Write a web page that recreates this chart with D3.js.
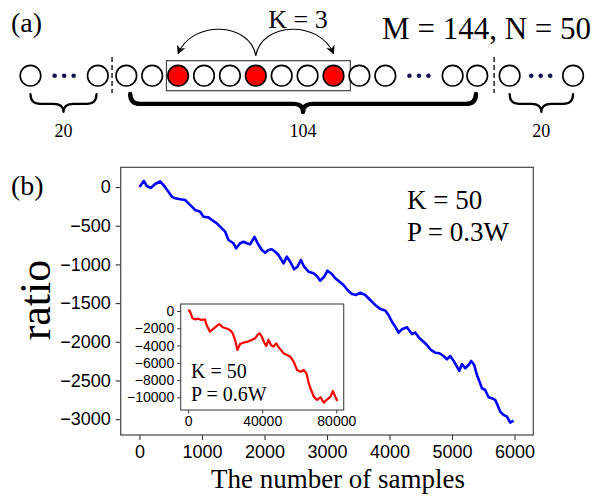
<!DOCTYPE html>
<html><head><meta charset="utf-8">
<script src="https://cdn.jsdelivr.net/npm/d3@7/dist/d3.min.js"></script>
<style>body{margin:0;background:#fff}svg{display:block}</style>
</head><body>
<script>
// ---------- Panel (a) schematic data (slot units) ----------
const circleSlots = [-3.7, -1.1, 0, 1, 2, 3, 4, 5, 6, 7, 8, 9, 10, 12.6, 13.55, 14.8, 17.25];
const redSlots = [2, 5, 8];
const dotSlots = [-2.4, 11.3, 16.0];
const sepSlots = [-0.55, 14.2];
const braceRanges = [[-3.7, -1.15, "20", 0], [0.15, 13.5, "104", 1], [14.8, 17.25, "20", 0]];
const boxRange = [1.55, 8.65];
const kLabelA = "K = 3";
const mnLabel = "M = 144, N = 50";

// ---------- Panel (b) main series ----------
const blueX = [0,70,118,182,251,331,384,464,518,571,651,731,784,838,891,971,1024,1104,1158,1238,1318,1371,1424,1504,1547,1611,1664,1718,1771,1840,1890,1958,2011,2064,2118,2171,2224,2304,2358,2411,2475,2528,2582,2635,2704,2784,2838,2891,2955,3008,3078,3131,3200,3264,3328,3398,3467,3531,3611,3691,3771,3851,3931,3984,4038,4091,4144,4198,4278,4358,4411,4480,4544,4598,4662,4731,4800,4864,4918,4971,5024,5078,5115,5158,5211,5264,5307,5355,5398,5440,5478,5531,5584,5638,5691,5728,5771,5824,5878,5931,5984];
const blueY = [0,78,13,-13,39,74,26,-60,-125,-146,-159,-168,-211,-254,-297,-319,-384,-392,-426,-469,-534,-577,-685,-727,-792,-727,-707,-727,-740,-645,-727,-814,-849,-814,-805,-836,-879,-986,-900,-965,-1063,-1030,-943,-1030,-1094,-1115,-1150,-1210,-1159,-1081,-1124,-1180,-1223,-1266,-1331,-1382,-1395,-1365,-1395,-1460,-1524,-1575,-1595,-1654,-1740,-1805,-1882,-1839,-1813,-1899,-1882,-1955,-1999,-2041,-2106,-2141,-2149,-2184,-2227,-2184,-2244,-2322,-2377,-2287,-2343,-2300,-2248,-2300,-2429,-2515,-2601,-2623,-2717,-2730,-2752,-2817,-2903,-2946,-2968,-3045,-3019];
// ---------- Inset series ----------
const redX = [0,920,2390,3640,5430,7270,9060,9980,11780,13240,15030,16820,18670,20460,22630,24100,25350,26590,28060,29850,32020,34410,36200,37450,38530,39840,41090,42170,43420,44720,46130,47600,48840,50150,51560,53400,55190,56980,58830,60620,62420,63880,65130,66430,67840,69680,71470,73260,75110,76900,78140,79600,80550];
const redY = [116,0,-850,-965,-890,-1040,-965,-1620,-2400,-2120,-1820,-1505,-1890,-2005,-2200,-2580,-3360,-4515,-3820,-3670,-3555,-3360,-3160,-2780,-2580,-2980,-3670,-4055,-3360,-3940,-4130,-3745,-4205,-4515,-4900,-5095,-5290,-5870,-6830,-7030,-6830,-7215,-8370,-9150,-9920,-10300,-9990,-10620,-10225,-9920,-9260,-9990,-10420];

const mainXTicks = [0,1000,2000,3000,4000,5000,6000];
const mainYTicks = [0,-500,-1000,-1500,-2000,-2500,-3000];
const insetXTicks = [0,40000,80000];
const insetYTicks = [0,-2000,-4000,-6000,-8000,-10000];
const mainText = ["K = 50", "P = 0.3W"];
const insetText = ["K = 50", "P = 0.6W"];
const xLabel = "The number of samples";
const yLabel = "ratio";

// ---------- drawing ----------
const SERIF = "'Liberation Serif', 'DejaVu Serif', serif";
const SANS = "'Liberation Sans', Arial, sans-serif";
const svg = d3.select("body").append("svg").attr("width", 608).attr("height", 498);
const fmt = d => d < 0 ? "\u2212" + Math.abs(d) : String(d);

// Panel (a)
const sx = d3.scaleLinear().domain([0, 1]).range([126.3, 152.2]);
const cy = 75.7, r = 10.3;
svg.append("text").attr("x", 11).attr("y", 32).attr("font-family", SERIF).attr("font-size", 28).text("(a)");
svg.append("text").attr("x", 298).attr("y", 28).attr("text-anchor", "middle").attr("font-family", SERIF).attr("font-size", 26).text(kLabelA);
svg.append("text").attr("x", 591).attr("y", 39).attr("text-anchor", "end").attr("font-family", SERIF).attr("font-size", 31).text(mnLabel);

svg.append("rect").attr("x", sx(boxRange[0])).attr("y", cy - 15).attr("width", sx(boxRange[1]) - sx(boxRange[0])).attr("height", 30)
  .attr("fill", "none").attr("stroke", "#444").attr("stroke-width", 1.2);
svg.selectAll(".cell").data(circleSlots).enter().append("circle")
  .attr("cx", d => sx(d)).attr("cy", cy).attr("r", r)
  .attr("fill", d => redSlots.includes(d) ? "#ff0000" : "#fff")
  .attr("stroke", "#000").attr("stroke-width", 1.6);
dotSlots.forEach(s => {
  [-1, 0, 1].forEach(k => svg.append("circle").attr("cx", sx(s) + k * 9.5).attr("cy", cy).attr("r", 2.3).attr("fill", "#141450"));
});
sepSlots.forEach(s => svg.append("line").attr("x1", sx(s)).attr("x2", sx(s)).attr("y1", 57).attr("y2", 93)
  .attr("stroke", "#000").attr("stroke-width", 1.3).attr("stroke-dasharray", "5,3"));

// arrows
const defs = svg.append("defs");
defs.append("marker").attr("id", "ah").attr("viewBox", "0 0 10 10").attr("refX", 9).attr("refY", 5)
  .attr("markerWidth", 9).attr("markerHeight", 9).attr("markerUnits", "userSpaceOnUse").attr("orient", "auto")
  .append("path").attr("d", "M0,0 L10,5 L0,10 L3,5 Z").attr("fill", "#000");
const mid = sx(redSlots[1]);
[redSlots[0], redSlots[2]].forEach(s => {
  const ex = sx(s), dir = ex < mid ? -1 : 1;
  svg.append("path").attr("d", `M${mid},${cy - 20} C${mid + dir * 6},${cy - 54} ${ex - dir * 14},${cy - 56} ${ex},${cy - 22}`)
    .attr("fill", "none").attr("stroke", "#000").attr("stroke-width", 1.1).attr("marker-end", "url(#ah)");
});

// braces
function brace(x1, x2, y0, h) {
  const xm = (x1 + x2) / 2, y1 = y0 + h * 0.55, y2 = y0 + h, q = Math.min(10, (x2 - x1) / 6);
  return `M${x1},${y0} Q${x1},${y1} ${x1 + q},${y1} L${xm - q},${y1} Q${xm},${y1} ${xm},${y2} Q${xm},${y1} ${xm + q},${y1} L${x2 - q},${y1} Q${x2},${y1} ${x2},${y0}`;
}
braceRanges.forEach(([a, b, lab, heavy]) => {
  svg.append("path").attr("d", brace(sx(a), sx(b), 94, 18)).attr("fill", "none").attr("stroke", "#000")
    .attr("stroke-width", heavy ? 4.4 : 2.2).attr("stroke-linecap", "round").attr("stroke-linejoin", "round");
  svg.append("text").attr("x", (sx(a) + sx(b)) / 2).attr("y", 137).attr("text-anchor", "middle")
    .attr("font-family", SERIF).attr("font-size", 18).text(lab);
});

// Panel (b)
const L = 120.7, R = 533.3, T = 167.3, B = 435;
const x = d3.scaleLinear().domain([-300, 6300]).range([L, R]);
const y = d3.scaleLinear().domain([-3205, 255]).range([B, T]);
svg.append("text").attr("x", 11).attr("y", 195).attr("font-family", SERIF).attr("font-size", 28).text("(b)");

const gx = svg.append("g").attr("transform", `translate(0,${B})`)
  .call(d3.axisBottom(x).tickValues(mainXTicks).tickFormat(fmt).tickSize(5).tickSizeOuter(0).tickPadding(5));
const gy = svg.append("g").attr("transform", `translate(${L},0)`)
  .call(d3.axisLeft(y).tickValues(mainYTicks).tickFormat(fmt).tickSize(5).tickSizeOuter(0).tickPadding(5));
[gx, gy].forEach(g => {
  g.select(".domain").remove();
  g.selectAll("line").attr("stroke", "#333").attr("stroke-width", 1.1);
  g.selectAll("text").attr("font-family", SANS).attr("font-size", 18).attr("fill", "#000");
});
svg.append("rect").attr("x", L).attr("y", T).attr("width", R - L).attr("height", B - T)
  .attr("fill", "none").attr("stroke", "#444").attr("stroke-width", 1.2);

const blue = blueX.map((v, i) => [v, blueY[i]]);
svg.append("path").datum(blue).attr("d", d3.line().x(d => x(d[0])).y(d => y(d[1])))
  .attr("fill", "none").attr("stroke", "#0000ff").attr("stroke-width", 2.6).attr("stroke-linejoin", "round");

mainText.forEach((t, i) => svg.append("text").attr("x", 407).attr("y", 209 + i * 32)
  .attr("font-family", SERIF).attr("font-size", 27).text(t));

svg.append("text").attr("x", 338).attr("y", 488).attr("text-anchor", "middle")
  .attr("font-family", SERIF).attr("font-size", 27).text(xLabel);
svg.append("text").attr("transform", "translate(50,300) rotate(-90)").attr("text-anchor", "middle")
  .attr("font-family", SERIF).attr("font-size", 44).text(yLabel);

// Inset
const iL = 180.7, iR = 343.7, iT = 304, iB = 410;
const ix = d3.scaleLinear().domain([-4000, 84000]).range([iL, iR]);
const iy = d3.scaleLinear().domain([-11465, 810]).range([iB, iT]);
svg.append("rect").attr("x", iL).attr("y", iT).attr("width", iR - iL).attr("height", iB - iT).attr("fill", "#fff");
const igx = svg.append("g").attr("transform", `translate(0,${iB})`)
  .call(d3.axisBottom(ix).tickValues(insetXTicks).tickFormat(fmt).tickSize(3.5).tickSizeOuter(0).tickPadding(3));
const igy = svg.append("g").attr("transform", `translate(${iL},0)`)
  .call(d3.axisLeft(iy).tickValues(insetYTicks).tickFormat(fmt).tickSize(3.5).tickSizeOuter(0).tickPadding(3));
[igx, igy].forEach(g => {
  g.select(".domain").remove();
  g.selectAll("line").attr("stroke", "#333").attr("stroke-width", 1);
  g.selectAll("text").attr("font-family", SANS).attr("font-size", 14).attr("fill", "#000");
});
svg.append("rect").attr("x", iL).attr("y", iT).attr("width", iR - iL).attr("height", iB - iT)
  .attr("fill", "none").attr("stroke", "#444").attr("stroke-width", 1.1);
const red = redX.map((v, i) => [v, redY[i]]);
svg.append("path").datum(red).attr("d", d3.line().x(d => ix(d[0])).y(d => iy(d[1])))
  .attr("fill", "none").attr("stroke", "#ff0000").attr("stroke-width", 2.2).attr("stroke-linejoin", "round");
insetText.forEach((t, i) => svg.append("text").attr("x", 191).attr("y", 378 + i * 22.5)
  .attr("font-family", SERIF).attr("font-size", 20).text(t));
</script>
</body></html>
